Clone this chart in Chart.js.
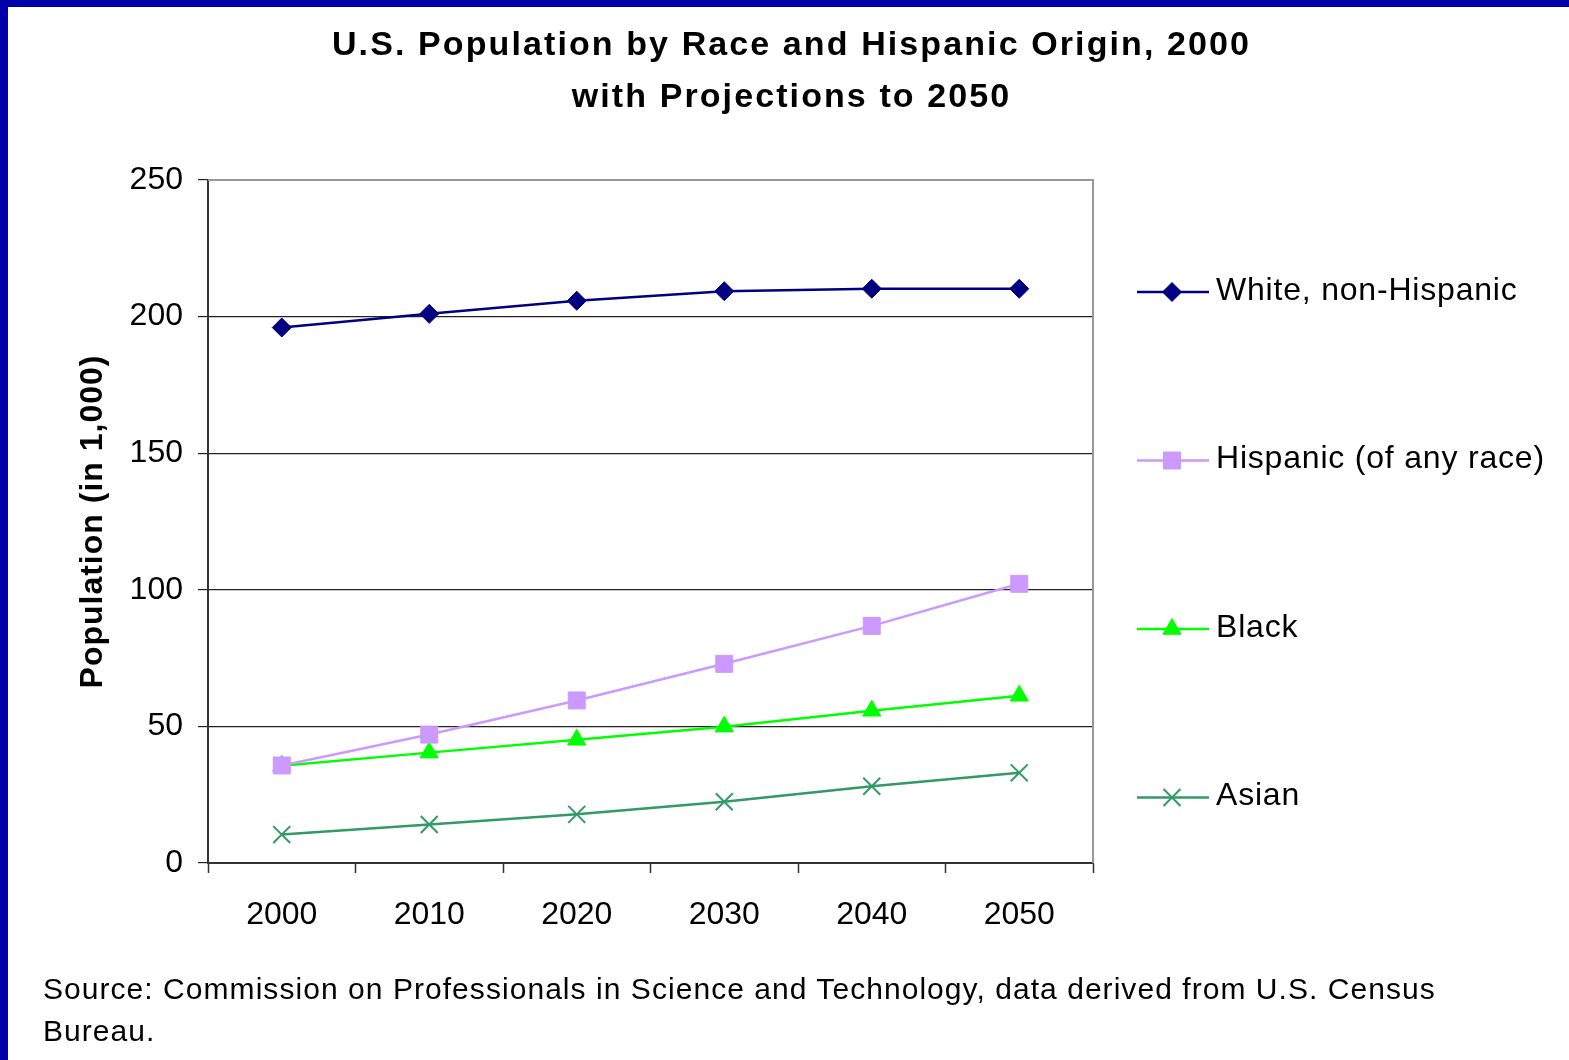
<!DOCTYPE html>
<html>
<head>
<meta charset="utf-8">
<script src="https://cdn.jsdelivr.net/npm/chart.js@4.4.1/dist/chart.umd.min.js"></script>
<style>
    html, body { margin: 0; padding: 0; background: #fff; }
    .frame {
        position: absolute; left: 0; top: 0; width: 1569px; height: 1060px;
        box-sizing: border-box; border-left: 8px solid #0000AA; border-top: 7px solid #0000AA;
        background: #fff;
    }
    .chart-box { position: absolute; left: 0; top: 0; width: 1561px; height: 1053px; }
    .source {
        position: absolute; left: 35px; top: 961px; width: 1500px;
        font-family: 'Liberation Sans', Arial, sans-serif; font-size: 30px; line-height: 42px;
        letter-spacing: 1.05px; color: #000;
    }
</style>
</head>
<body>
<div class="frame">
    <div class="chart-box"><canvas id="popChart"></canvas></div>
    <div class="source">Source: Commission on Professionals in Science and Technology, data derived from U.S. Census<br>Bureau.</div>
</div>
<script>
const years = ['2000', '2010', '2020', '2030', '2040', '2050'];
const white = [196.0, 201.0, 205.8, 209.3, 210.2, 210.2];
const hispanic = [35.7, 47.0, 59.5, 72.9, 86.8, 102.2];
const black = [35.6, 40.4, 45.1, 49.9, 55.7, 61.2];
const asian = [10.4, 14.1, 17.8, 22.4, 28.1, 33.0];
const yTicks = [0, 50, 100, 150, 200, 250];

const titleLines = ['U.S. Population by Race and Hispanic Origin, 2000', 'with Projections to 2050'];
const yTitle = 'Population (in 1,000)';

const FONT = 'Liberation Sans';

// grey frame on top and right of the plot area
const plotFrame = {
    id: 'plotFrame',
    beforeDatasetsDraw(chart) {
        const {ctx, chartArea: a} = chart;
        ctx.save();
        ctx.strokeStyle = '#999';
        ctx.lineWidth = 2;
        ctx.beginPath();
        ctx.moveTo(a.left, a.top);
        ctx.lineTo(a.right, a.top);
        ctx.lineTo(a.right, a.bottom);
        ctx.stroke();
        ctx.restore();
    }
};

// title + axis title drawn by hand so the spaced-out lettering can be matched
const titles = {
    id: 'titles',
    afterDraw(chart) {
        const {ctx, chartArea: a} = chart;
        ctx.save();
        ctx.fillStyle = '#000';
        ctx.textAlign = 'center';
        ctx.textBaseline = 'middle';
        ctx.font = 'bold 34px ' + FONT;
        ctx.letterSpacing = '2.1px';
        titleLines.forEach((t, i) => {
            ctx.fillText(t, chart.width / 2 + 3, 39 + i * 52);
        });

        ctx.font = 'bold 32px ' + FONT;
        ctx.letterSpacing = '1px';
        ctx.translate(85, (a.top + a.bottom) / 2);
        ctx.rotate(-Math.PI / 2);
        ctx.fillText(yTitle, 0, 0);
        ctx.restore();
    }
};

// legend stacked down the right side
const sideLegend = {
    id: 'sideLegend',
    afterDraw(chart) {
        const {ctx, chartArea: a} = chart;
        ctx.save();
        chart.data.datasets.forEach((ds, i) => {
            const y = a.top + 112 + i * 168.5;
            const x0 = a.right + 44;
            ctx.strokeStyle = ds.borderColor;
            ctx.fillStyle = ds.borderColor;
            ctx.lineWidth = 2.5;
            ctx.beginPath();
            ctx.moveTo(x0, y);
            ctx.lineTo(x0 + 72, y);
            ctx.stroke();
            ctx.lineWidth = ds.pointBorderWidth;
            Chart.helpers.drawPoint(ctx, {
                pointStyle: ds.pointStyle,
                radius: ds.pointRadius,
                borderWidth: ds.pointBorderWidth
            }, x0 + 35, y);
            ctx.fillStyle = '#000';
            ctx.font = '32px ' + FONT;
            ctx.letterSpacing = '0.8px';
            ctx.textBaseline = 'middle';
            ctx.textAlign = 'left';
            ctx.fillText(ds.label, x0 + 79, y - 1);
        });
        ctx.restore();
    }
};

function series(label, data, color, style, radius) {
    return {
        label: label,
        data: data,
        borderColor: color,
        backgroundColor: color,
        pointBackgroundColor: color,
        pointBorderColor: color,
        borderWidth: 2.5,
        pointStyle: style,
        pointRadius: radius,
        pointHoverRadius: radius,
        pointBorderWidth: style === 'crossRot' ? 2 : 1,
        tension: 0
    };
}

const popCtx = document.getElementById('popChart').getContext('2d');
new Chart(popCtx, {
    type: 'line',
    data: {
        labels: years,
        datasets: [
            series('White, non-Hispanic', white, '#000080', 'rectRot', 9.5),
            series('Hispanic (of any race)', hispanic, '#CC99FF', 'rect', 12),
            series('Black', black, '#00FF00', 'triangle', 10.5),
            series('Asian', asian, '#339966', 'crossRot', 12)
        ]
    },
    options: {
        responsive: true,
        maintainAspectRatio: false,
        animation: false,
        layout: {
            padding: { left: 20, right: 476, top: 173, bottom: 107 }
        },
        plugins: {
            legend: { display: false },
            tooltip: { enabled: false },
            title: { display: false }
        },
        scales: {
            x: {
                offset: true,
                afterFit: s => { s.height = 90; },
                grid: {
                    offset: true,
                    drawOnChartArea: false,
                    tickLength: 10,
                    tickColor: '#333',
                    tickWidth: 1.5
                },
                border: { color: '#333', width: 2 },
                ticks: {
                    color: '#000',
                    padding: 23,
                    font: { family: FONT, size: 32 }
                }
            },
            y: {
                min: 0,
                max: 250,
                afterFit: s => { s.width = 180; },
                afterBuildTicks: s => { s.ticks = yTicks.map(v => ({ value: v })); },
                grid: {
                    color: c => (c.tick && c.tick.value === 250 ? '#999' : '#222'),
                    lineWidth: 1.2,
                    tickLength: 10,
                    tickColor: '#222'
                },
                border: { color: '#333', width: 2 },
                ticks: {
                    color: '#000',
                    padding: 15,
                    font: { family: FONT, size: 32 }
                }
            }
        }
    },
    plugins: [plotFrame, titles, sideLegend]
});
</script>
</body>
</html>
